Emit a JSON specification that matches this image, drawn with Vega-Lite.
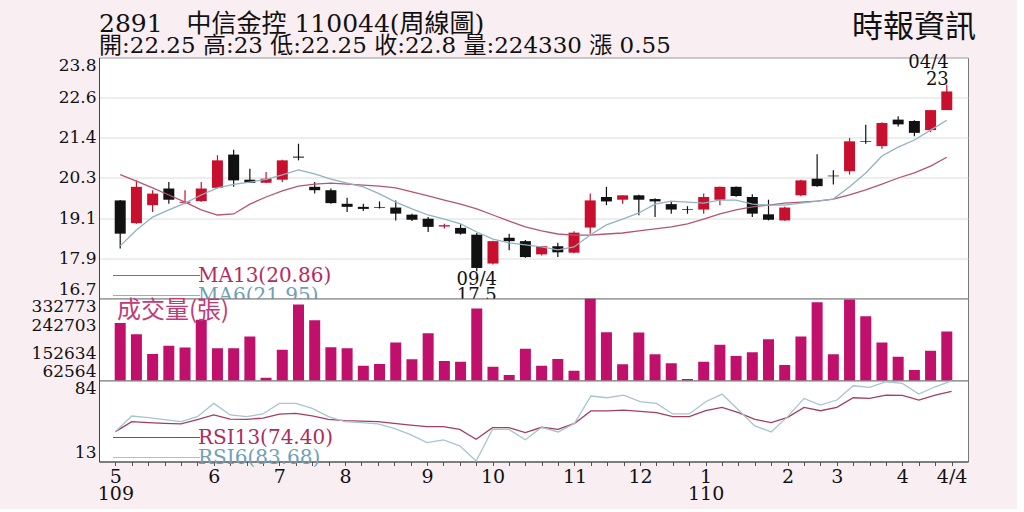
{
  "$schema": "https://vega.github.io/schema/vega-lite/v6.json",
  "background": "#f9eef2",
  "padding": {"left": 30, "top": 10.5, "right": 40, "bottom": 4},
  "bounds": "flush",
  "title": {
    "text": "2891\u00a0\u00a0\u00a0中信金控 110044(周線圖)",
    "subtitle": "開:22.25 高:23 低:22.25 收:22.8 量:224330 漲 0.55",
    "anchor": "start", "frame": "group",
    "font": "DejaVu Serif, Noto Sans CJK TC", "fontSize": 25, "fontWeight": "normal", "color": "#111",
    "subtitleFont": "DejaVu Serif, Noto Sans CJK TC", "subtitleFontSize": 23, "subtitleColor": "#111",
    "subtitlePadding": -2, "offset": -46.5
  },
  "data": {"values": [
    {"i":0,"o":19.59,"h":19.60,"l":18.17,"c":18.61,"m13":20.35,"m6":18.25,"v":251800,"r13":39.2,"r6":39.2},
    {"i":1,"o":18.92,"h":20.18,"l":18.90,"c":19.99,"m13":20.16,"m6":18.72,"v":215300,"r13":47.9,"r6":52.9},
    {"i":2,"o":19.45,"h":19.89,"l":19.25,"c":19.79,"m13":19.96,"m6":19.10,"v":150200,"r13":47.1,"r6":51.4},
    {"i":3,"o":19.94,"h":20.13,"l":19.49,"c":19.61,"m13":19.75,"m6":19.31,"v":176800,"r13":46.4,"r6":49.7},
    {"i":4,"o":19.52,"h":19.89,"l":19.48,"c":19.55,"m13":19.54,"m6":19.51,"v":171100,"r13":45.9,"r6":47.9},
    {"i":5,"o":19.57,"h":20.13,"l":19.54,"c":19.94,"m13":19.31,"m6":19.75,"v":263100,"r13":49.7,"r6":52.3},
    {"i":6,"o":19.96,"h":20.92,"l":19.94,"c":20.77,"m13":19.16,"m6":19.96,"v":168800,"r13":53.8,"r6":63.9},
    {"i":7,"o":20.94,"h":21.08,"l":19.99,"c":20.18,"m13":19.19,"m6":20.06,"v":168800,"r13":50.1,"r6":53.8},
    {"i":8,"o":20.20,"h":20.52,"l":20.10,"c":20.11,"m13":19.48,"m6":20.13,"v":207600,"r13":50.0,"r6":52.3},
    {"i":9,"o":20.11,"h":20.43,"l":20.10,"c":20.23,"m13":19.69,"m6":20.21,"v":71500,"r13":51.0,"r6":54.7},
    {"i":10,"o":20.20,"h":20.79,"l":20.13,"c":20.77,"m13":19.87,"m6":20.34,"v":163500,"r13":54.5,"r6":63.9},
    {"i":11,"o":20.88,"h":21.26,"l":20.77,"c":20.85,"m13":20.01,"m6":20.49,"v":312900,"r13":55.2,"r6":63.9},
    {"i":12,"o":19.99,"h":20.13,"l":19.79,"c":19.89,"m13":20.07,"m6":20.37,"v":260700,"r13":52.9,"r6":59.5},
    {"i":13,"o":19.89,"h":19.94,"l":19.49,"c":19.51,"m13":20.10,"m6":20.22,"v":172100,"r13":49.9,"r6":52.3},
    {"i":14,"o":19.49,"h":19.67,"l":19.25,"c":19.40,"m13":20.07,"m6":20.10,"v":168800,"r13":48.8,"r6":47.9},
    {"i":15,"o":19.40,"h":19.49,"l":19.28,"c":19.34,"m13":20.04,"m6":19.99,"v":111400,"r13":48.4,"r6":47.1},
    {"i":16,"o":19.39,"h":19.56,"l":19.35,"c":19.37,"m13":20.01,"m6":19.78,"v":117000,"r13":47.9,"r6":45.9},
    {"i":17,"o":19.38,"h":19.59,"l":19.00,"c":19.20,"m13":19.96,"m6":19.54,"v":187700,"r13":46.4,"r6":42.1},
    {"i":18,"o":19.17,"h":19.20,"l":18.98,"c":19.02,"m13":19.84,"m6":19.34,"v":132300,"r13":44.9,"r6":36.6},
    {"i":19,"o":19.05,"h":19.10,"l":18.66,"c":18.81,"m13":19.72,"m6":19.16,"v":218600,"r13":43.6,"r6":29.6},
    {"i":20,"o":18.82,"h":18.90,"l":18.76,"c":18.86,"m13":19.60,"m6":19.04,"v":127000,"r13":43.6,"r6":32.0},
    {"i":21,"o":18.78,"h":18.89,"l":18.58,"c":18.61,"m13":19.48,"m6":18.90,"v":124600,"r13":41.2,"r6":26.7},
    {"i":22,"o":18.58,"h":18.63,"l":17.50,"c":17.60,"m13":19.34,"m6":18.66,"v":299600,"r13":32.5,"r6":13.4},
    {"i":23,"o":17.73,"h":18.40,"l":17.70,"c":18.39,"m13":19.16,"m6":18.45,"v":108000,"r13":42.7,"r6":41.2},
    {"i":24,"o":18.49,"h":18.61,"l":18.12,"c":18.39,"m13":18.98,"m6":18.34,"v":80500,"r13":42.7,"r6":41.2},
    {"i":25,"o":18.39,"h":18.42,"l":17.90,"c":17.92,"m13":18.81,"m6":18.28,"v":166800,"r13":38.3,"r6":32.0},
    {"i":26,"o":18.00,"h":18.25,"l":17.97,"c":18.24,"m13":18.69,"m6":18.22,"v":111400,"r13":43.0,"r6":43.0},
    {"i":27,"o":18.24,"h":18.34,"l":17.92,"c":18.06,"m13":18.60,"m6":18.13,"v":133600,"r13":41.2,"r6":38.9},
    {"i":28,"o":18.05,"h":18.68,"l":18.03,"c":18.64,"m13":18.57,"m6":18.22,"v":94800,"r13":46.4,"r6":46.4},
    {"i":29,"o":18.79,"h":19.79,"l":18.61,"c":19.59,"m13":18.57,"m6":18.57,"v":332773,"r13":57.3,"r6":70.4},
    {"i":30,"o":19.69,"h":19.99,"l":19.45,"c":19.56,"m13":18.60,"m6":18.87,"v":221900,"r13":57.3,"r6":68.9},
    {"i":31,"o":19.61,"h":19.74,"l":19.49,"c":19.74,"m13":18.63,"m6":19.04,"v":115700,"r13":58.1,"r6":71.2},
    {"i":32,"o":19.74,"h":19.76,"l":19.15,"c":19.61,"m13":18.69,"m6":19.22,"v":220900,"r13":56.9,"r6":65.4},
    {"i":33,"o":19.63,"h":19.65,"l":19.10,"c":19.56,"m13":18.75,"m6":19.48,"v":148900,"r13":55.8,"r6":63.9},
    {"i":34,"o":19.48,"h":19.56,"l":19.20,"c":19.32,"m13":18.81,"m6":19.57,"v":119000,"r13":52.3,"r6":54.7},
    {"i":35,"o":19.33,"h":19.42,"l":19.20,"c":19.31,"m13":18.90,"m6":19.54,"v":67200,"r13":52.3,"r6":54.7},
    {"i":36,"o":19.32,"h":19.79,"l":19.20,"c":19.69,"m13":19.04,"m6":19.51,"v":124600,"r13":57.5,"r6":65.4},
    {"i":37,"o":19.61,"h":20.00,"l":19.45,"c":19.99,"m13":19.19,"m6":19.60,"v":180100,"r13":60.4,"r6":72.1},
    {"i":38,"o":19.99,"h":20.00,"l":19.70,"c":19.72,"m13":19.31,"m6":19.60,"v":143600,"r13":55.8,"r6":58.1},
    {"i":39,"o":19.69,"h":19.77,"l":19.10,"c":19.20,"m13":19.40,"m6":19.48,"v":155500,"r13":49.9,"r6":44.2},
    {"i":40,"o":19.18,"h":19.61,"l":19.00,"c":19.02,"m13":19.45,"m6":19.45,"v":198700,"r13":47.1,"r6":38.9},
    {"i":41,"o":19.00,"h":19.40,"l":18.99,"c":19.38,"m13":19.51,"m6":19.45,"v":113700,"r13":51.7,"r6":52.3},
    {"i":42,"o":19.74,"h":20.20,"l":19.71,"c":20.18,"m13":19.54,"m6":19.51,"v":207600,"r13":60.4,"r6":68.3},
    {"i":43,"o":20.23,"h":20.95,"l":19.99,"c":20.01,"m13":19.57,"m6":19.57,"v":320500,"r13":57.5,"r6":62.5},
    {"i":44,"o":20.32,"h":20.48,"l":20.06,"c":20.30,"m13":19.63,"m6":19.63,"v":148900,"r13":60.4,"r6":66.9},
    {"i":45,"o":20.45,"h":21.43,"l":20.35,"c":21.33,"m13":19.75,"m6":19.99,"v":329500,"r13":68.9,"r6":79.4},
    {"i":46,"o":21.33,"h":21.82,"l":21.26,"c":21.31,"m13":19.90,"m6":20.40,"v":274000,"r13":68.3,"r6":77.9},
    {"i":47,"o":21.19,"h":21.89,"l":21.11,"c":21.87,"m13":20.07,"m6":20.90,"v":187700,"r13":71.2,"r6":82.9},
    {"i":48,"o":21.97,"h":22.07,"l":21.77,"c":21.83,"m13":20.25,"m6":21.16,"v":141200,"r13":70.9,"r6":81.4},
    {"i":49,"o":21.93,"h":21.95,"l":21.48,"c":21.58,"m13":20.40,"m6":21.37,"v":97100,"r13":66.9,"r6":72.1},
    {"i":50,"o":21.66,"h":22.25,"l":21.60,"c":22.25,"m13":20.60,"m6":21.66,"v":160200,"r13":71.2,"r6":78.5},
    {"i":51,"o":22.25,"h":23.00,"l":22.25,"c":22.80,"m13":20.86,"m6":21.95,"v":224330,"r13":74.4,"r6":83.68}
  ]},
  "spacing": 0,
  "resolve": {
    "scale": {"x": "independent", "y": "independent", "color": "independent"},
    "legend": {"color": "independent"}
  },
  "vconcat": [
    {
      "width": 869,
      "height": 241,
      "title": {
        "text": "時報資訊", "anchor": "end", "frame": "group",
        "font": "Noto Sans CJK TC", "fontSize": 31, "fontWeight": "normal", "color": "#111",
        "dy": -6, "dx": 8
      },
      "encoding": {
        "x": {"field": "i", "type": "quantitative", "scale": {"domain": [-1, 52], "nice": false, "zero": false}, "axis": null}
      },
      "layer": [
        {
          "mark": {"type": "rule", "strokeWidth": 1.2},
          "encoding": {
            "y": {
              "field": "l", "type": "quantitative",
              "scale": {"domain": [16.7, 23.8], "nice": false, "zero": false},
              "axis": {
                "values": [16.7, 17.8833, 19.0667, 20.2501, 21.4333, 22.6167, 23.8],
                "format": ".1f", "labelFlush": true, "grid": true, "gridColor": "#dcdcdc",
                "labelFontSize": 17
              }
            },
            "y2": {"field": "h"},
            "color": {"condition": {"test": "datum.c > datum.o", "value": "#c8102e"}, "value": "#111111"}
          }
        },
        {
          "mark": {"type": "bar", "width": 11},
          "encoding": {
            "y": {"field": "o", "type": "quantitative"},
            "y2": {"field": "c"},
            "color": {"condition": {"test": "datum.c > datum.o", "value": "#c8102e"}, "value": "#111111"}
          }
        },
        {
          "mark": {"type": "line", "strokeWidth": 1.3},
          "encoding": {
            "y": {"field": "m13", "type": "quantitative"},
            "color": {
              "datum": "MA13(20.86)",
              "scale": {"domain": ["MA13(20.86)", "MA6(21.95)"], "range": ["#b5566f", "#8fb3c1"]},
              "legend": {
                "orient": "none", "legendX": 79, "legendY": 208, "direction": "vertical",
                "title": null, "symbolType": "M-15,0H2.4", "symbolSize": 100, "symbolStrokeWidth": 1.2,
                "labelFont": "DejaVu Serif", "labelFontSize": 20, "labelOffset": 0, "rowPadding": -8, "padding": 0,
                "labelColor": {"expr": "datum.value == 'MA13(20.86)' ? '#b8285e' : '#6fa0b6'"}
              }
            }
          }
        },
        {
          "mark": {"type": "line", "strokeWidth": 1.3},
          "encoding": {
            "y": {"field": "m6", "type": "quantitative"},
            "color": {"datum": "MA6(21.95)"}
          }
        },
        {
          "data": {"values": [{"i": 51, "p": 23, "t": "04/4|23"}]},
          "mark": {"type": "text", "lineBreak": "|", "align": "right", "baseline": "bottom", "dy": -13, "dx": 2, "font": "DejaVu Serif", "fontSize": 18, "lineHeight": 17, "color": "#111"},
          "encoding": {
            "y": {"field": "p", "type": "quantitative"},
            "text": {"field": "t"}
          }
        },
        {
          "data": {"values": [{"i": 22, "p": 17.5, "t": "09/4|17.5"}]},
          "mark": {"type": "text", "lineBreak": "|", "align": "center", "baseline": "top", "dy": 0, "font": "DejaVu Serif", "fontSize": 18, "lineHeight": 16, "color": "#111"},
          "encoding": {
            "y": {"field": "p", "type": "quantitative"},
            "text": {"field": "t"}
          }
        }
      ]
    },
    {
      "width": 869,
      "height": 82,
      "mark": {"type": "bar", "width": 11, "clip": true},
      "encoding": {
        "x": {"field": "i", "type": "quantitative", "scale": {"domain": [-1, 52], "nice": false, "zero": false}, "axis": null},
        "y": {
          "field": "v", "type": "quantitative",
          "scale": {"domain": [62564, 332773], "nice": false, "zero": false},
          "axis": {"values": [62564, 152634, 242703, 332773], "format": "d", "labelFlush": true, "labelFontSize": 17}
        },
        "color": {
          "datum": "成交量(張)",
          "scale": {"range": ["#c0106c"]},
          "legend": {
            "orient": "none", "legendX": -6, "legendY": 0, "title": null,
            "symbolSize": 0, "symbolOpacity": 0, "labelOffset": 0, "padding": 0,
            "labelFont": "Noto Sans CJK TC", "labelFontSize": 24, "labelColor": "#c43a78"
          }
        }
      }
    },
    {
      "width": 869,
      "height": 81,
      "encoding": {
        "x": {
          "field": "i", "type": "quantitative", "scale": {"domain": [-1, 52], "nice": false, "zero": false},
          "axis": {
            "values": [0,1,2,3,4,5,6,7,8,9,10,11,12,13,14,15,16,17,18,19,20,21,22,23,24,25,26,27,28,29,30,31,32,33,34,35,36,37,38,39,40,41,42,43,44,45,46,47,48,49,50,51],
            "labelExpr": "datum.value == 0 ? ['5','109'] : datum.value == 6 ? '6' : datum.value == 10 ? '7' : datum.value == 14 ? '8' : datum.value == 19 ? '9' : datum.value == 23 ? '10' : datum.value == 28 ? '11' : datum.value == 32 ? '12' : datum.value == 36 ? ['1','110'] : datum.value == 41 ? '2' : datum.value == 44 ? '3' : datum.value == 48 ? '4' : datum.value == 51 ? '4/4' : ''",
            "ticks": true, "tickSize": 4, "tickColor": "#555", "labelPadding": 2,
            "labelFontSize": 19, "labelLineHeight": 17, "labelOverlap": false, "labelBound": false
          }
        }
      },
      "layer": [
        {
          "mark": {"type": "line", "strokeWidth": 1.3},
          "encoding": {
            "y": {
              "field": "r13", "type": "quantitative",
              "scale": {"domain": [13, 84], "nice": false, "zero": false},
              "axis": {"values": [13, 36, 60, 84], "format": "d", "labelFlush": true, "labelFontSize": 17}
            },
            "color": {
              "datum": "RSI13(74.40)",
              "scale": {"domain": ["RSI13(74.40)", "RSI6(83.68)"], "range": ["#a43e5e", "#a6c5cf"]},
              "legend": {
                "orient": "none", "legendX": 79, "legendY": 47, "direction": "vertical",
                "title": null, "symbolType": "M-15,0H2.4", "symbolSize": 100, "symbolStrokeWidth": 1.2,
                "labelFont": "DejaVu Serif", "labelFontSize": 20, "labelOffset": 0, "rowPadding": -7, "padding": 0,
                "labelColor": {"expr": "datum.value == 'RSI13(74.40)' ? '#b02a60' : '#6fa0b6'"}
              }
            }
          }
        },
        {
          "mark": {"type": "line", "strokeWidth": 1.3},
          "encoding": {
            "y": {"field": "r6", "type": "quantitative"},
            "color": {"datum": "RSI6(83.68)"}
          }
        }
      ]
    }
  ],
  "config": {
    "view": {"stroke": "#777", "fill": "white"},
    "axis": {
      "domainColor": "#444", "labelFont": "DejaVu Serif", "labelColor": "#111",
      "ticks": false, "grid": false, "title": null, "labelPadding": 3
    },
    "legend": {"labelFont": "DejaVu Serif"}
  }
}
